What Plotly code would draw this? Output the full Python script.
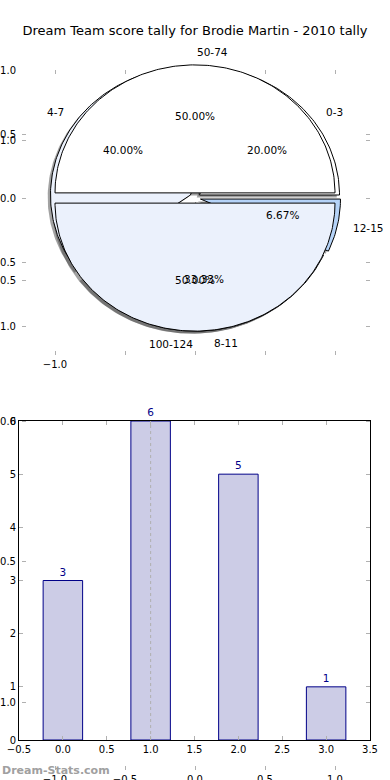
import numpy as np
import plotly.graph_objects as go

W, H = 390, 780
title_text = "Dream Team score tally for Brodie Martin - 2010 tally"

# Pie data (two overlapping pies as in the reference)
pie_a_labels = ["50-74", "100-124"]
pie_a_values = [1, 1]
pie_a_colors = ["#ffffff", "#ebf1fc"]

pie_b_labels = ["0-3", "4-7", "8-11", "12-15"]
pie_b_values = [3, 6, 5, 1]
pie_b_colors = ["#ffffff", "#ebf1fc", "#ebf1fc", "#b5d3f8"]

# Bar data
bar_x = [0, 1, 2, 3]
bar_values = [3, 6, 5, 1]

# stray axis tick values / labels
stray_ticks = [-1, -0.5, 0, 0.5, 1]
stray_labels = ["\u22121.0", "\u22120.5", "0.0", "0.5", "1.0"]

explode = 0.04
shadow_off = 0.02
font = "DejaVu Sans"

fig = go.Figure()


def wedge_list(values):
    tot = float(sum(values))
    out = []
    start = 0.0
    for v in values:
        ang = 360.0 * v / tot
        out.append((start, start + ang, v / tot))
        start += ang
    return out


def wedge_poly(t1, t2, dx=0.0, dy=0.0):
    mid = np.deg2rad((t1 + t2) / 2)
    cx = explode * np.cos(mid) + dx
    cy = explode * np.sin(mid) + dy
    t = np.deg2rad(np.linspace(t1, t2, max(int(abs(t2 - t1)), 2) + 1))
    xs = np.concatenate([[cx], cx + np.cos(t), [cx]])
    ys = np.concatenate([[cy], cy + np.sin(t), [cy]])
    return xs, ys


pies = [
    (pie_b_labels, pie_b_values, pie_b_colors),
    (pie_a_labels, pie_a_values, pie_a_colors),
]

# shadows first
for labels, values, colors in pies:
    for (t1, t2, frac) in wedge_list(values):
        xs, ys = wedge_poly(t1, t2, -shadow_off, -shadow_off)
        fig.add_trace(go.Scatter(x=xs, y=ys, xaxis="x4", yaxis="y4", mode="lines",
                                 fill="toself", fillcolor="rgba(70,70,70,0.5)",
                                 line=dict(width=0), hoverinfo="skip", showlegend=False))

annotations = []
for labels, values, colors in pies:
    for (t1, t2, frac), lab, col in zip(wedge_list(values), labels, colors):
        xs, ys = wedge_poly(t1, t2)
        fig.add_trace(go.Scatter(x=xs, y=ys, xaxis="x4", yaxis="y4", mode="lines",
                                 fill="toself", fillcolor=col,
                                 line=dict(color="black", width=1), hoverinfo="skip",
                                 showlegend=False))
        mid = np.deg2rad((t1 + t2) / 2)
        cx = explode * np.cos(mid)
        cy = explode * np.sin(mid)
        xt = cx + 1.1 * np.cos(mid)
        yt = cy + 1.1 * np.sin(mid)
        annotations.append(dict(x=xt, y=yt, xref="x4", yref="y4", text=lab, showarrow=False,
                                xanchor="left" if xt > 0 else "right", yanchor="middle",
                                font=dict(family=font, size=10.5, color="black")))
        xp = cx + 0.6 * np.cos(mid)
        yp = cy + 0.6 * np.sin(mid)
        annotations.append(dict(x=xp, y=yp, xref="x4", yref="y4", text="%.2f%%" % (frac * 100),
                                showarrow=False, xanchor="center", yanchor="middle",
                                font=dict(family=font, size=10.5, color="black")))

# bars
fig.add_trace(go.Bar(x=bar_x, y=bar_values, xaxis="x3", yaxis="y3", width=0.45,
                     marker=dict(color="#ccccE6", line=dict(color="#000088", width=1)),
                     text=[str(v) for v in bar_values], textposition="outside",
                     textfont=dict(family=font, size=10.5, color="#000088"),
                     cliponaxis=False, showlegend=False, hoverinfo="skip"))

# invisible dummy traces so axes A and B render
fig.add_trace(go.Scatter(x=[0], y=[0], xaxis="x", yaxis="y", mode="markers",
                         marker=dict(opacity=0), hoverinfo="skip", showlegend=False))
fig.add_trace(go.Scatter(x=[0], y=[0], xaxis="x2", yaxis="y2", mode="markers",
                         marker=dict(opacity=0), hoverinfo="skip", showlegend=False))

tick_common = dict(ticks="inside", ticklen=4, tickwidth=1, tickcolor="#b0b0b0",
                   showgrid=False, zeroline=False, showline=True,
                   linecolor="rgba(0,0,0,0)", mirror="ticks", automargin=False,
                   tickfont=dict(family=font, size=10, color="black"), fixedrange=True)

px2x = lambda p: p / W
px2y = lambda p: 1 - p / H

# axis A (pie axes)
xa_range = [-1 - 33 / 140.0, 1 + 35 / 140.0]
ya_range = [-(355 - 198) / 128.0, 1.002]
# axis B (stray second axes)
yb_range = [-(770 - 421) / 281.0, (421 - 70) / 281.0]

fig.update_layout(
    width=W, height=H, margin=dict(l=0, r=0, t=0, b=0, pad=0), autosize=False,
    paper_bgcolor="white", plot_bgcolor="rgba(0,0,0,0)",
    title=dict(text=title_text, x=0.5, xanchor="center", y=px2y(30), yanchor="middle",
               automargin=False, font=dict(family=font, size=13, color="black")),
    xaxis=dict(domain=[px2x(22), px2x(370)], range=xa_range, anchor="y",
               tickvals=stray_ticks, ticktext=[stray_labels[0], "", "", "", ""], **tick_common),
    yaxis=dict(domain=[px2y(355), px2y(70)], range=ya_range, anchor="x",
               tickvals=stray_ticks, ticktext=stray_labels, ticklabelstandoff=3,
               **tick_common),
    xaxis2=dict(domain=[px2x(22), px2x(370)], range=xa_range, anchor="y2",
                tickvals=stray_ticks, ticktext=stray_labels, **tick_common),
    yaxis2=dict(domain=[px2y(770), px2y(70)], range=yb_range, anchor="x2",
                tickvals=stray_ticks, ticktext=stray_labels, ticklabelstandoff=3,
                **tick_common),
    xaxis3=dict(domain=[px2x(19), px2x(370)], range=[-0.5, 3.5], anchor="y3",
                dtick=0.5, tick0=0, tickformat=".1f", ticks="inside", ticklen=4,
                tickcolor="#b0b0b0", showline=True, linecolor="black", linewidth=1,
                mirror="ticks", showgrid=False, zeroline=False, fixedrange=True,
                automargin=False, tickfont=dict(family=font, size=10, color="black")),
    yaxis3=dict(domain=[px2y(740), px2y(421)], range=[0, 6], anchor="x3",
                dtick=1, ticks="inside", ticklen=4, tickcolor="#b0b0b0",
                showline=True, linecolor="black", linewidth=1, mirror="ticks",
                showgrid=False, zeroline=False, fixedrange=True, automargin=False,
                tickfont=dict(family=font, size=10, color="black")),
    xaxis4=dict(domain=[0, 1], range=[-195 / 140.0, 195 / 140.0], visible=False,
                anchor="y4", fixedrange=True, automargin=False),
    yaxis4=dict(domain=[0, 1], range=[-(780 - 198) / 128.0, 198 / 128.0], visible=False,
                anchor="x4", fixedrange=True, automargin=False),
    shapes=[dict(type="line", xref="x3", yref="y3 domain", x0=bar_x[1], x1=bar_x[1],
                 y0=0, y1=1, line=dict(color="#b0b0b0", width=1, dash="dot"))],
    annotations=annotations + [
        dict(x=0, y=px2y(770), xref="paper", yref="paper", text="Dream-Stats.com",
             showarrow=False, xanchor="left", yanchor="middle",
             font=dict(family=font, size=11, color="#a0a0a0", weight="bold"))
    ],
)

fig.write_html("out.html", config={"responsive": False, "displayModeBar": False},
               post_script="document.body.style.margin='0';document.body.style.overflow='hidden';")
